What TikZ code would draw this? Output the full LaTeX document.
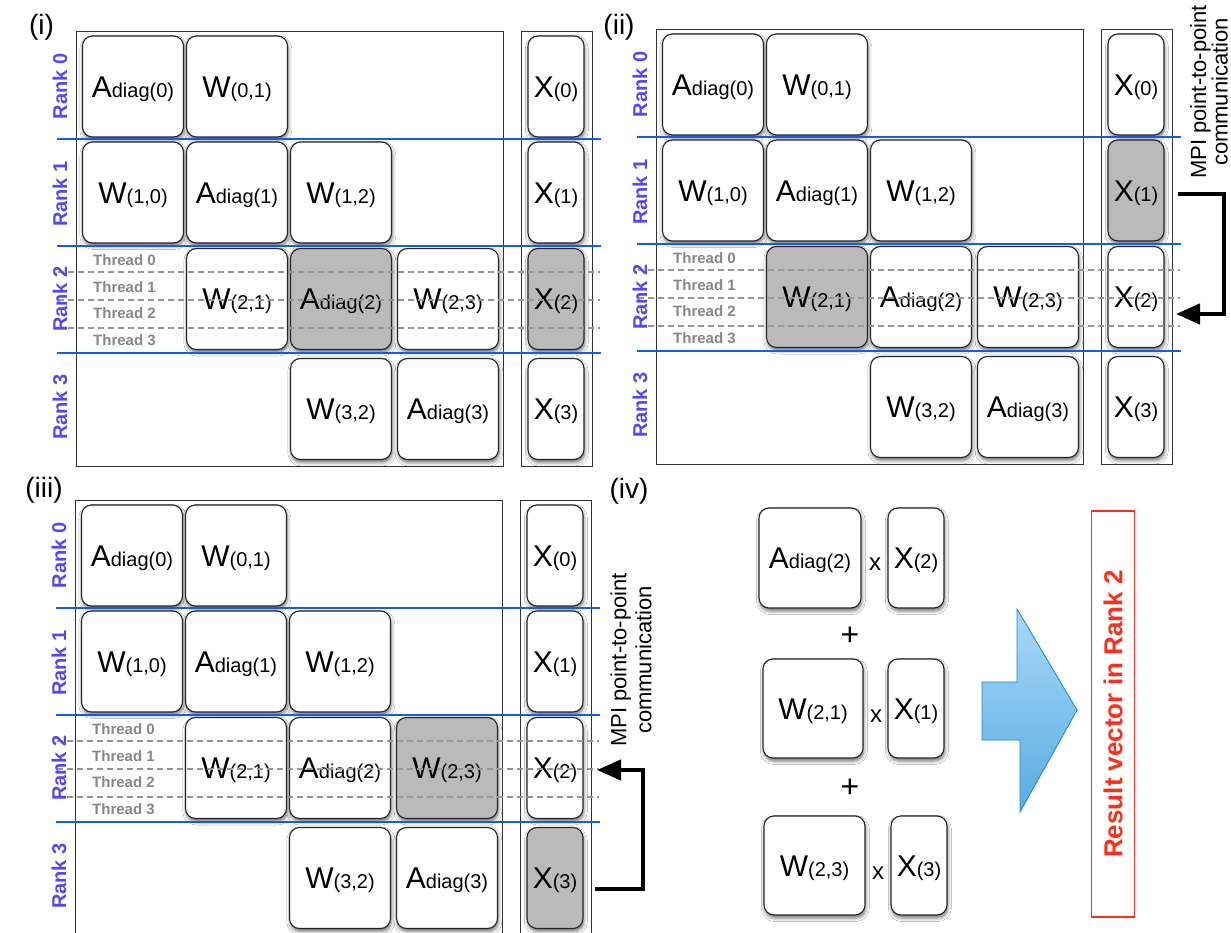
\documentclass[tikz,border=0pt]{standalone}
\usepackage{fontspec}
\setmainfont{Liberation Sans}
\usetikzlibrary{arrows.meta,shadows.blur}

\definecolor{rankblue}{RGB}{82,72,250}
\definecolor{lineblue}{RGB}{22,92,236}
\definecolor{threadgray}{RGB}{135,135,135}
\definecolor{dashgray}{RGB}{150,150,150}
\definecolor{cellgray}{RGB}{186,186,186}
\definecolor{resultred}{RGB}{255,45,25}
\definecolor{arrowedge}{RGB}{30,138,214}
\definecolor{arrowtop}{RGB}{168,216,248}
\definecolor{arrowbot}{RGB}{88,172,226}

% big letter with a smaller index written after it
\newcommand{\mlabel}[2]{{\fontsize{30}{30}\selectfont #1}{\fontsize{20}{20}\selectfont #2}}

\tikzset{
  cell/.style={draw=black!85, line width=1.1pt, rounded corners=10pt, fill=white,
    minimum width=101pt, minimum height=101pt, inner sep=0pt, outer sep=0pt,
    text height=21.5pt, text depth=0pt,
    blur shadow={shadow xshift=0.8pt, shadow yshift=-3pt, shadow blur radius=3.5pt, shadow opacity=55}},
  xcell/.style={cell, minimum width=56pt},
  hot/.style={fill=cellgray},
  frame/.style={draw=black!80, line width=0.9pt},
  rankline/.style={draw=lineblue, line width=2.6pt},
  threadline/.style={draw=dashgray, line width=1.1pt, dash pattern=on 6pt off 4pt},
  ranklabel/.style={rotate=90, text=rankblue, font=\fontsize{20}{20}\selectfont\bfseries, inner sep=0pt},
  threadlabel/.style={anchor=west, text=threadgray, font=\fontsize{15}{15}\selectfont\bfseries, inner sep=0pt},
  panellabel/.style={font=\fontsize{28}{28}\selectfont, inner sep=0pt},
  comm/.style={line width=4.5pt, -{Triangle[length=24pt,width=20pt]}},
  commtext/.style={rotate=90, align=center, inner sep=0pt},
  optext/.style={inner sep=0pt},
  % highlight switches, set per panel
  h22/.style={}, h21/.style={}, h23/.style={},
  hx1/.style={}, hx2/.style={}, hx3/.style={},
}

% one distributed matrix with its vector, four ranks of two rows each
\newcommand{\matrixpanel}{%
  \draw[frame] (76,31) rectangle (503,466);
  \draw[frame] (521,31) rectangle (592,466);
  % rank 0
  \node[cell] (a00) at (133,86.5) {\mlabel{A}{diag(0)}};
  \node[cell] (w01) at (237,86.5) {\mlabel{W}{(0,1)}};
  % rank 1
  \node[cell] (w10) at (133,192.5) {\mlabel{W}{(1,0)}};
  \node[cell] (a11) at (237,192.5) {\mlabel{A}{diag(1)}};
  \node[cell] (w12) at (341,192.5) {\mlabel{W}{(1,2)}};
  % rank 2
  \node[cell,h21] (w21) at (237,299) {\mlabel{W}{(2,1)}};
  \node[cell,h22] (a22) at (341,299) {\mlabel{A}{diag(2)}};
  \node[cell,h23] (w23) at (448,299) {\mlabel{W}{(2,3)}};
  % rank 3
  \node[cell] (w32) at (341,409) {\mlabel{W}{(3,2)}};
  \node[cell] (a33) at (448,409) {\mlabel{A}{diag(3)}};
  % vector blocks
  \node[xcell] (x0) at (556,86.5) {\mlabel{X}{(0)}};
  \node[xcell,hx1] (x1) at (556,192.5) {\mlabel{X}{(1)}};
  \node[xcell,hx2] (x2) at (556,299) {\mlabel{X}{(2)}};
  \node[xcell,hx3] (x3) at (556,409) {\mlabel{X}{(3)}};
  % rank boundaries and thread boundaries
  \draw[rankline] (57,139) -- (601,139);
  \draw[rankline] (57,246) -- (601,246);
  \draw[rankline] (57,353) -- (601,353);
  \draw[threadline] (58,272) -- (600,272);
  \draw[threadline] (58,300) -- (600,300);
  \draw[threadline] (58,328) -- (600,328);
  \node[ranklabel] (r0) at (60,86.5) {Rank 0};
  \node[ranklabel] (r1) at (60,194) {Rank 1};
  \node[ranklabel] (r2) at (60,299) {Rank 2};
  \node[ranklabel] (r3) at (60,407) {Rank 3};
  \node[threadlabel] (t0) at (93,260) {Thread 0};
  \node[threadlabel] (t1) at (93,287) {Thread 1};
  \node[threadlabel] (t2) at (93,313) {Thread 2};
  \node[threadlabel] (t3) at (93,340) {Thread 3};
}

\begin{document}
\begin{tikzpicture}[x=1pt, y=-1pt]
  \useasboundingbox (0,0) rectangle (1231,933);
  \fill[white] (0,0) rectangle (1231,933);

  % (i) local diagonal product
  \begin{scope}[name prefix=p1-, h22/.style={hot}, hx2/.style={hot}]
    \matrixpanel
  \end{scope}
  \node[panellabel] (lab1) at (41.5,27) {(i)};

  % (ii) block from rank 1
  \begin{scope}[shift={(580,-2)}, name prefix=p2-, h21/.style={hot}, hx1/.style={hot}]
    \matrixpanel
  \end{scope}
  \node[panellabel] (lab2) at (619,27) {(ii)};
  \node[commtext, font=\fontsize{22}{20}\selectfont] (mpi2) at (1209,92)
    {MPI point-to-point\\communication};
  \draw[comm] ([xshift=14pt, yshift=-3.5pt]p2-x1.east) -- ++(46,0)
    |- ([xshift=12pt, yshift=-17pt]p2-x2.east);

  % (iii) block from rank 3
  \begin{scope}[shift={(-1,469)}, name prefix=p3-, h23/.style={hot}, hx3/.style={hot}]
    \matrixpanel
  \end{scope}
  \node[panellabel] (lab3) at (44,490) {(iii)};
  \node[commtext, font=\fontsize{22}{25}\selectfont] (mpi3) at (631,660)
    {MPI point-to-point\\communication};
  \draw[comm] ([xshift=12pt, yshift=-11pt]p3-x3.east) -- ++(48,0)
    |- ([xshift=14pt, yshift=-2pt]p3-x2.east);

  % (iv) sum of the three products
  \node[panellabel] (lab4) at (629,491) {(iv)};
  \node[cell, minimum width=102pt, minimum height=100pt] (q-a22) at (810,558) {\mlabel{A}{diag(2)}};
  \node[xcell, minimum height=100pt] (q-x2) at (916,558) {\mlabel{X}{(2)}};
  \node[cell, minimum width=100pt, minimum height=99pt] (q-w21) at (813,708.5) {\mlabel{W}{(2,1)}};
  \node[xcell, minimum height=99pt] (q-x1) at (916,708.5) {\mlabel{X}{(1)}};
  \node[cell, minimum width=101pt, minimum height=99pt] (q-w23) at (814.5,865.5) {\mlabel{W}{(2,3)}};
  \node[xcell, minimum height=99pt] (q-x3) at (919,865.5) {\mlabel{X}{(3)}};
  \node[optext, anchor=base, font=\fontsize{24}{24}\selectfont] (m1) at (875,570) {x};
  \node[optext, anchor=base, font=\fontsize{24}{24}\selectfont] (m2) at (876,722) {x};
  \node[optext, anchor=base, font=\fontsize{24}{24}\selectfont] (m3) at (878,879) {x};
  \node[optext, font=\fontsize{32}{32}\selectfont] (plus1) at (850,636) {+};
  \node[optext, font=\fontsize{32}{32}\selectfont] (plus2) at (850,788) {+};

  % block arrow towards the result
  \draw[draw=arrowedge, line width=0.9pt, top color=arrowtop, bottom color=arrowbot]
    (982,682) -- (1017,682) -- (1017,609) -- (1077,710) -- (1020,812) -- (1020,740)
    -- (982,740) -- cycle;

  \node[draw=resultred, line width=1.1pt, rotate=90, minimum width=406pt,
        minimum height=43pt, inner sep=0pt, text=resultred,
        font=\fontsize{26}{26}\selectfont\bfseries] (result) at (1113,714)
    {Result vector in Rank 2};
\end{tikzpicture}
\end{document}
